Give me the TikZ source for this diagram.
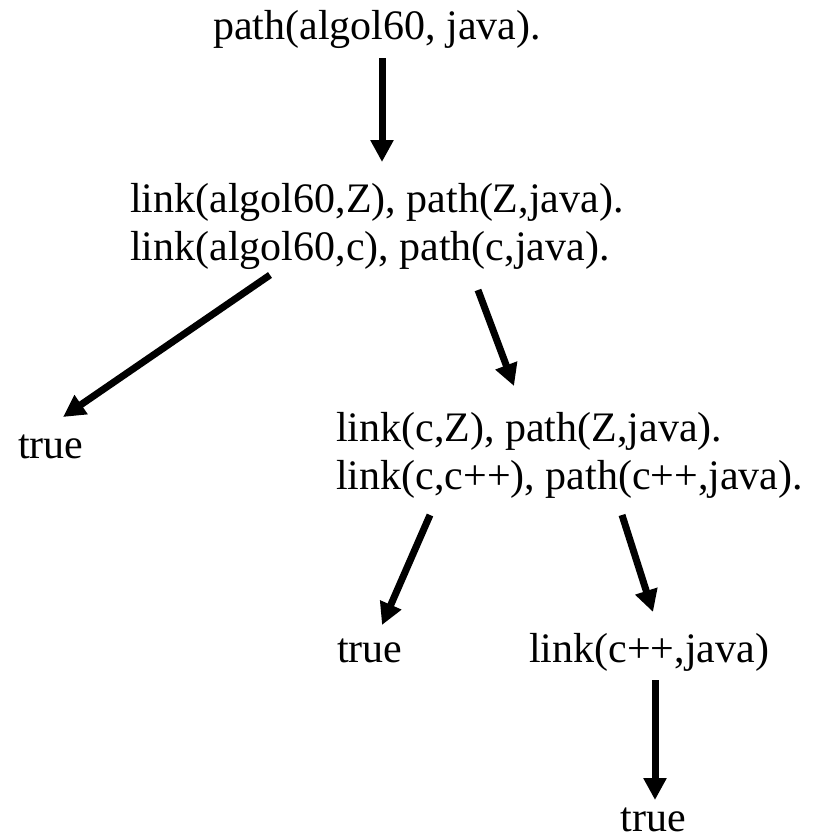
\documentclass[tikz,border=0pt]{standalone}
\usepackage{fontspec}
\setmainfont{Liberation Serif}
\usetikzlibrary{arrows.meta}
\tikzset{
  goal/.style={inner sep=0pt, anchor=base west, font=\fontsize{42}{48}\selectfont},
  arr/.style={line width=7pt, -{Triangle[width=22pt,length=22pt]}},
}
\begin{document}
\begin{tikzpicture}[x=1pt,y=-1pt]
  \useasboundingbox (0,0) rectangle (815,839);
  % query
  \node[goal] (q0) at (213,39) {path(algol60, java).};
  % first resolution step
  \node[goal] (r1a) at (130,212) {link(algol60,Z), path(Z,java).};
  \node[goal] (r1b) at (130,260) {link(algol60,c), path(c,java).};
  \node[goal] (t1) at (18,458) {true};
  % second resolution step
  \node[goal] (r2a) at (336,441) {link(c,Z), path(Z,java).};
  \node[goal] (r2b) at (336,489) {link(c,c++), path(c++,java).};
  \node[goal] (t2) at (337,662) {true};
  \node[goal] (r3) at (529,662) {link(c++,java)};
  \node[goal, anchor=base] (t3) at (653,831) {true};
  % arrow end points
  \coordinate (s0) at (382,58);  \coordinate (e0) at (382,162);
  \coordinate (s1) at (270,275); \coordinate (e1) at (63,417);
  \coordinate (s2) at (478,290); \coordinate (e2) at (514,386);
  \coordinate (s3) at (430,515); \coordinate (e3) at (382,625);
  \coordinate (s4) at (622,515); \coordinate (e4) at (653,612);
  \coordinate (s5) at (655,680); \coordinate (e5) at (655,800);
  \draw[arr] (s0) -- (e0);
  \draw[arr] (s1) -- (e1);
  \draw[arr] (s2) -- (e2);
  \draw[arr] (s3) -- (e3);
  \draw[arr] (s4) -- (e4);
  \draw[arr] (s5) -- (e5);
\end{tikzpicture}
\end{document}
